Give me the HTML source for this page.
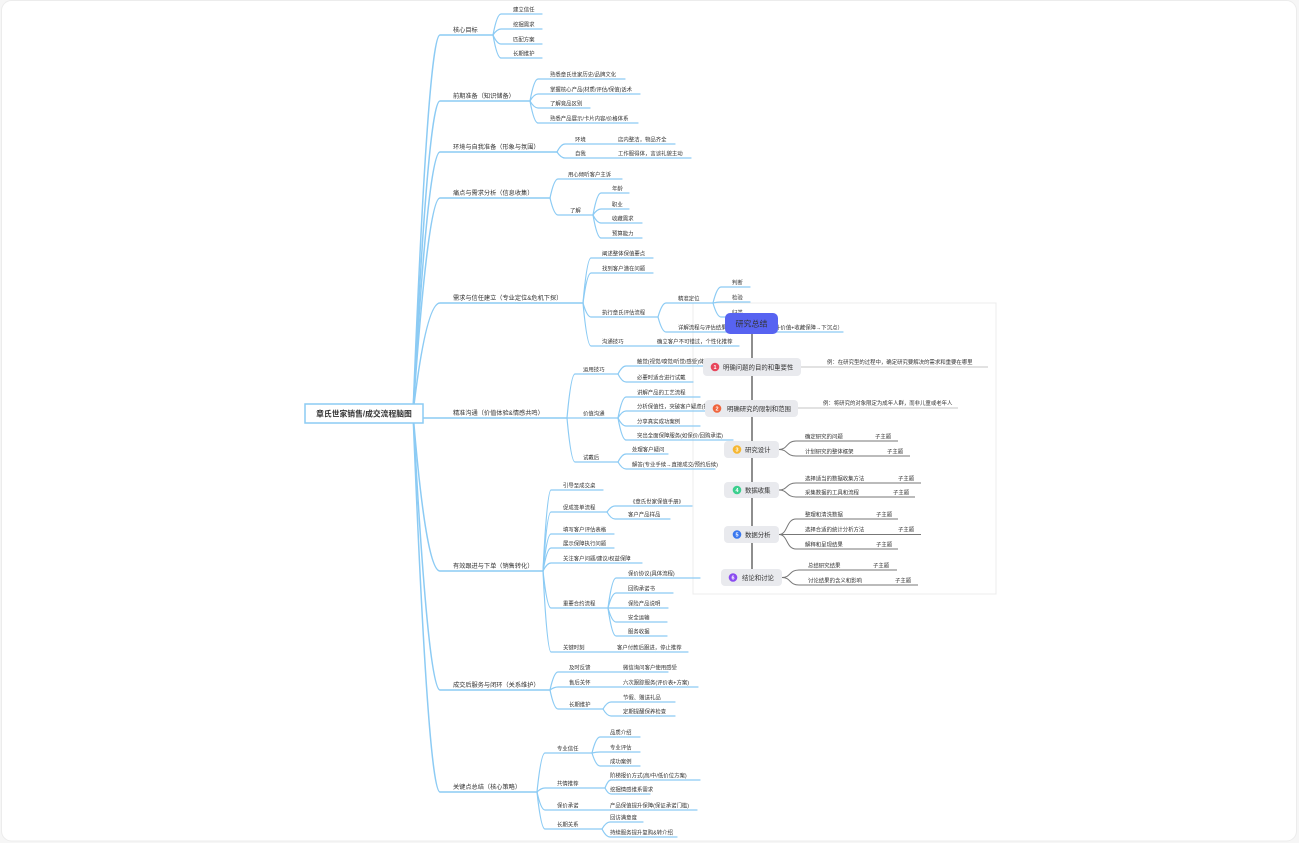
<!DOCTYPE html>
<html><head><meta charset="utf-8"><style>
html,body{margin:0;padding:0;background:#f6f6f6;}
svg{display:block;}
text{font-family:"Liberation Sans","Noto Sans CJK SC",sans-serif;fill:#333;}
.l1{font-size:6.2px;}
.lf{font-size:5.4px;}
.bl{fill:none;stroke:#8ccbf4;stroke-width:1.2;stroke-linecap:round;}
.bm{fill:none;stroke:#8ccbf4;stroke-width:1.5;stroke-linecap:round;}
.g1{fill:none;stroke:#777;stroke-width:1;}
.g2{fill:none;stroke:#c4c4c4;stroke-width:1;}
.nd{fill:#e9eaee;}
.nt{font-size:6.4px;fill:#333;}
.st{font-size:5.4px;fill:#444;}
.num{font-size:5.5px;fill:#fff;font-weight:bold;}
</style></head><body>
<svg width="1299" height="843" viewBox="0 0 1299 843" xmlns="http://www.w3.org/2000/svg">
<rect x="1.5" y="0.5" width="1295" height="840.5" rx="10" fill="#fff" stroke="#ececec"/>
<!-- overlay panel -->
<rect x="693" y="303" width="303" height="291" fill="#fff" stroke="#ececec"/>

<!-- ===== main map lines ===== -->
<g class="bm">
<path d="M413 413 Q428 35 440 35 H493"/>
<path d="M413 413 Q428 101 440 101 H530"/>
<path d="M413 413 Q428 152 440 152 H557"/>
<path d="M413 413 Q428 198 440 198 H550"/>
<path d="M413 413 Q426 303 440 303 H583"/>
<path d="M423 418 H567"/>
<path d="M413 413 Q426 571 440 571 H543"/>
<path d="M413 413 Q428 690 440 690 H550"/>
<path d="M413 413 Q428 792 440 792 H537"/>
</g>
<g class="bl">
<!-- L1a -->
<path d="M493 35 Q497 14 501 14 H542"/>
<path d="M493 35 Q497 29 501 29 H542"/>
<path d="M493 35 Q497 44 501 44 H542"/>
<path d="M493 35 Q497 58 501 58 H542"/>
<!-- L1b -->
<path d="M530 101 Q534 79 538 79 H625"/>
<path d="M530 101 Q534 94 538 94 H640"/>
<path d="M530 101 Q534 108 538 108 H590"/>
<path d="M530 101 Q534 123 538 123 H638"/>
<!-- L1c -->
<path d="M557 152 Q561 144 565 144 H675"/>
<path d="M557 152 Q561 158 565 158 H691"/>
<!-- L1d -->
<path d="M550 198 Q554 179 558 179 H622"/>
<path d="M550 198 Q554 215 558 215 H593"/>
<path d="M593 215 Q597 193 601 193 H629"/>
<path d="M593 215 Q597 209 601 209 H629"/>
<path d="M593 215 Q597 223 601 223 H642"/>
<path d="M593 215 Q597 238 601 238 H642"/>
<!-- L1e -->
<path d="M583 303 Q587 258 591 258 H653"/>
<path d="M583 303 Q587 273 591 273 H653"/>
<path d="M583 303 Q587 317 591 317 H658"/>
<path d="M583 303 Q587 346 591 346 H739"/>
<path d="M658 317 Q662 303 666 303 H713"/>
<path d="M658 317 Q662 332 666 332 H843"/>
<path d="M713 303 Q717 287 721 287 H750"/>
<path d="M713 303 Q717 302 721 302 H750"/>
<path d="M713 303 Q717 317 721 317 H750"/>
<!-- L1f -->
<path d="M567 418 Q571 374 575 374 H618"/>
<path d="M567 418 H618"/>
<path d="M567 418 Q571 462 575 462 H618"/>
<path d="M618 374 Q622 366 626 366 H718"/>
<path d="M618 374 Q622 382 626 382 H693"/>
<path d="M618 418 Q622 397 626 397 H700"/>
<path d="M618 418 Q622 411 626 411 H725"/>
<path d="M618 418 Q622 426 626 426 H700"/>
<path d="M618 418 Q622 440 626 440 H733"/>
<path d="M618 462 Q622 454 626 454 H668"/>
<path d="M618 462 Q622 469 626 469 H715"/>
<!-- L1g -->
<path d="M543 571 Q547 490 551 490 H603"/>
<path d="M543 571 Q547 512 551 512 H607"/>
<path d="M543 571 Q547 534 551 534 H614"/>
<path d="M543 571 Q547 548 551 548 H614"/>
<path d="M543 571 Q547 563 551 563 H642"/>
<path d="M543 571 Q547 608 551 608 H608"/>
<path d="M543 571 Q547 652 551 652 H688"/>
<path d="M607 512 Q611 506 615 506 H692"/>
<path d="M607 512 Q611 519 615 519 H670"/>
<path d="M608 608 Q612 578 616 578 H700"/>
<path d="M608 608 Q612 593 616 593 H673"/>
<path d="M608 608 H668"/>
<path d="M608 608 Q612 622 616 622 H667"/>
<path d="M608 608 Q612 636 616 636 H667"/>
<!-- L1h -->
<path d="M550 690 Q554 672 558 672 H668"/>
<path d="M550 690 Q554 687 558 687 H698"/>
<path d="M550 690 Q554 709 558 709 H603"/>
<path d="M603 709 Q607 702 611 702 H675"/>
<path d="M603 709 Q607 716 611 716 H675"/>
<!-- L1i -->
<path d="M537 792 Q541 753 545 753 H592"/>
<path d="M537 792 Q541 788 545 788 H605"/>
<path d="M537 792 Q541 810 545 810 H697"/>
<path d="M537 792 Q541 829 545 829 H602"/>
<path d="M592 753 Q596 737 600 737 H640"/>
<path d="M592 753 Q596 752 600 752 H640"/>
<path d="M592 753 Q596 766 600 766 H640"/>
<path d="M605 788 Q608 780 611 780 H700"/>
<path d="M605 788 Q608 794 611 794 H650"/>
<path d="M602 829 Q606 822 610 822 H643"/>
<path d="M602 829 Q606 837 610 837 H677"/>
</g>

<!-- root -->
<rect x="305" y="404" width="118" height="19" fill="#fff" stroke="#8ccbf4" stroke-width="1.5"/>
<text x="364" y="416.6" text-anchor="middle" font-size="7.8" font-weight="bold" fill="#222">章氏世家销售/成交流程脑图</text>

<!-- L1 texts -->
<g class="l1">
<text x="453" y="32">核心目标</text>
<text x="453" y="98">前期准备（知识储备）</text>
<text x="453" y="149">环境与自我准备（形象与氛围）</text>
<text x="453" y="195">痛点与需求分析（信息收集）</text>
<text x="453" y="300">需求与信任建立（专业定位&amp;危机下探）</text>
<text x="453" y="415">精准沟通（价值体验&amp;情感共鸣）</text>
<text x="453" y="568">有效跟进与下单（销售转化）</text>
<text x="453" y="687">成交后服务与闭环（关系维护）</text>
<text x="453" y="789">关键点总结（核心策略）</text>
</g>

<!-- leaf texts -->
<g class="lf">
<text x="513" y="11.5">建立信任</text>
<text x="513" y="26.5">挖掘需求</text>
<text x="513" y="41.5">匹配方案</text>
<text x="513" y="55.5">长期维护</text>

<text x="550" y="76.5">熟悉章氏世家历史/品牌文化</text>
<text x="550" y="91.5">掌握核心产品(材质/评估/保值)话术</text>
<text x="550" y="105.5">了解竞品区别</text>
<text x="550" y="120.5">熟悉产品展示/卡片内容/价格体系</text>

<text x="575" y="141.5">环境</text>
<text x="618" y="141.5">店内整洁，物品齐全</text>
<text x="575" y="155.5">自我</text>
<text x="618" y="155.5">工作服得体，言谈礼貌主动</text>

<text x="568" y="176.5">用心倾听客户主诉</text>
<text x="570" y="212.5">了解</text>
<text x="612" y="190.5">年龄</text>
<text x="612" y="206.5">职业</text>
<text x="612" y="220.5">收藏需求</text>
<text x="612" y="235.5">预算能力</text>

<text x="602" y="255.5">阐述整体保值要点</text>
<text x="602" y="270.5">找到客户潜在问题</text>
<text x="602" y="314.5">执行章氏评估流程</text>
<text x="678" y="300.5">精准定位</text>
<text x="732" y="284.5">判断</text>
<text x="732" y="299.5">检验</text>
<text x="732" y="314.5">归类</text>
<text x="678" y="329.5">详解流程与评估结果的关联性（保值→提升价值+收藏保障→下沉点）</text>
<text x="602" y="343.5">沟通技巧</text>
<text x="657" y="343.5">确立客户不可错过，个性化推荐</text>

<text x="583" y="371.5">运用技巧</text>
<text x="637" y="363.5">触觉(视觉/嗅觉/听觉/感受)体验</text>
<text x="637" y="379.5">必要时适合进行试戴</text>
<text x="583" y="415.5">价值沟通</text>
<text x="637" y="394.5">讲解产品的工艺流程</text>
<text x="637" y="408.5">分析保值性，突破客户疑虑(提升信任)</text>
<text x="637" y="423.5">分享真实成功案例</text>
<text x="637" y="437.5">突出全面保障服务(如保价/回购承诺)</text>
<text x="583" y="459.5">试戴后</text>
<text x="632" y="451.5">处理客户疑问</text>
<text x="632" y="466.5">解答(专业手续→直接成交/预约后续)</text>

<text x="563" y="487.5">引导至成交桌</text>
<text x="563" y="509.5">促成签单流程</text>
<text x="630" y="503.5">《章氏世家保值手册》</text>
<text x="628" y="516.5">客户产品样品</text>
<text x="563" y="531.5">填写客户评估表格</text>
<text x="563" y="545.5">展示保障执行问题</text>
<text x="563" y="560.5">关注客户问题/建议/权益保障</text>
<text x="563" y="605.5">重要合约流程</text>
<text x="628" y="575.5">保价协议(具体流程)</text>
<text x="628" y="590.5">回购承诺书</text>
<text x="628" y="605.5">保险产品说明</text>
<text x="628" y="619.5">安全运输</text>
<text x="628" y="633.5">服务收据</text>
<text x="563" y="649.5">关键时刻</text>
<text x="617" y="649.5">客户付款后跟进，停止推荐</text>

<text x="569" y="669.5">及时反馈</text>
<text x="623" y="669.5">微信询问客户使用感受</text>
<text x="569" y="684.5">售后关怀</text>
<text x="623" y="684.5">六次跟踪服务(评价表+方案)</text>
<text x="569" y="706.5">长期维护</text>
<text x="623" y="699.5">节假、赠送礼品</text>
<text x="623" y="713.5">定期提醒保养检查</text>

<text x="557" y="750.5">专业信任</text>
<text x="610" y="734.5">品质介绍</text>
<text x="610" y="749.5">专业评估</text>
<text x="610" y="763.5">成功案例</text>
<text x="557" y="785.5">共情推荐</text>
<text x="610" y="777.5">阶梯报价方式(高/中/低价位方案)</text>
<text x="610" y="791.5">挖掘情感维系需求</text>
<text x="557" y="807.5">保价承诺</text>
<text x="610" y="807.5">产品保值提升保障(保证承诺门槛)</text>
<text x="557" y="826.5">长期关系</text>
<text x="610" y="819.5">回访满意度</text>
<text x="610" y="834.5">持续服务提升复购&amp;转介绍</text>
</g>

<!-- ===== second map (研究总结) ===== -->
<path d="M752 334 V569" stroke="#444" stroke-width="1.2" fill="none"/>
<g class="g2">
<path d="M801 367 H988"/>
<path d="M798 408 H958"/>
</g>
<g class="g1">
<path d="M779 449.5 C788 449.5 786 441 796 441 H898"/>
<path d="M779 449.5 C788 449.5 786 456 796 456 H910"/>
<path d="M779 490 C788 490 786 483 796 483 H921"/>
<path d="M779 490 C788 490 786 497 796 497 H915"/>
<path d="M779 534.5 C788 534.5 786 519 796 519 H898"/>
<path d="M779 534.5 H921"/>
<path d="M779 534.5 C788 534.5 786 549 796 549 H898"/>
<path d="M782 577.5 C791 577.5 789 570 799 570 H897"/>
<path d="M782 577.5 C791 577.5 789 585 799 585 H918"/>
</g>

<rect x="725" y="313" width="53" height="21" rx="5" fill="#5763f1"/>
<text x="751.5" y="326.5" text-anchor="middle" font-size="8" fill="#fff">研究总结</text>

<rect class="nd" x="703" y="358" width="98" height="18" rx="4"/>
<circle cx="715" cy="367" r="4.3" fill="#e8465c"/>
<text class="num" x="715" y="369" text-anchor="middle">1</text>
<text class="nt" x="723" y="369.5">明确问题的目的和重要性</text>

<rect class="nd" x="705" y="400" width="93" height="17" rx="4"/>
<circle cx="717" cy="408.5" r="4.3" fill="#f0643c"/>
<text class="num" x="717" y="410.5" text-anchor="middle">2</text>
<text class="nt" x="727" y="411">明确研究的限制和范围</text>

<rect class="nd" x="724" y="441" width="55" height="17" rx="4"/>
<circle cx="737" cy="449.5" r="4.3" fill="#f6b732"/>
<text class="num" x="737" y="451.5" text-anchor="middle">3</text>
<text class="nt" x="745" y="452">研究设计</text>

<rect class="nd" x="724" y="482" width="55" height="16" rx="4"/>
<circle cx="737" cy="490" r="4.3" fill="#3ccf8e"/>
<text class="num" x="737" y="492" text-anchor="middle">4</text>
<text class="nt" x="745" y="492.5">数据收集</text>

<rect class="nd" x="724" y="526" width="55" height="17" rx="4"/>
<circle cx="737" cy="534.5" r="4.3" fill="#3a78ef"/>
<text class="num" x="737" y="536.5" text-anchor="middle">5</text>
<text class="nt" x="745" y="537">数据分析</text>

<rect class="nd" x="721" y="569" width="61" height="17" rx="4"/>
<circle cx="733" cy="577.5" r="4.3" fill="#8a4cf0"/>
<text class="num" x="733" y="579.5" text-anchor="middle">6</text>
<text class="nt" x="742" y="580">结论和讨论</text>

<g class="st">
<text x="827" y="364">例：在研究型的过程中，确定研究要解决的需求和重要在哪里</text>
<text x="823" y="405">例：将研究的对象限定为成年人群，而非儿童或老年人</text>
<text x="805" y="438.5">确定研究的问题</text><text x="875" y="438.5">子主题</text>
<text x="805" y="453.5">计划研究的整体框架</text><text x="887" y="453.5">子主题</text>
<text x="805" y="480.5">选择适当的数据收集方法</text><text x="898" y="480.5">子主题</text>
<text x="805" y="494.5">采集数据的工具和流程</text><text x="893" y="494.5">子主题</text>
<text x="805" y="516.5">整理和清洗数据</text><text x="876" y="516.5">子主题</text>
<text x="805" y="531.5">选择合适的统计分析方法</text><text x="898" y="531.5">子主题</text>
<text x="805" y="546.5">解释和呈现结果</text><text x="876" y="546.5">子主题</text>
<text x="808" y="567.5">总结研究结果</text><text x="873" y="567.5">子主题</text>
<text x="808" y="582.5">讨论结果的含义和影响</text><text x="895" y="582.5">子主题</text>
</g>
</svg>
</body></html>
